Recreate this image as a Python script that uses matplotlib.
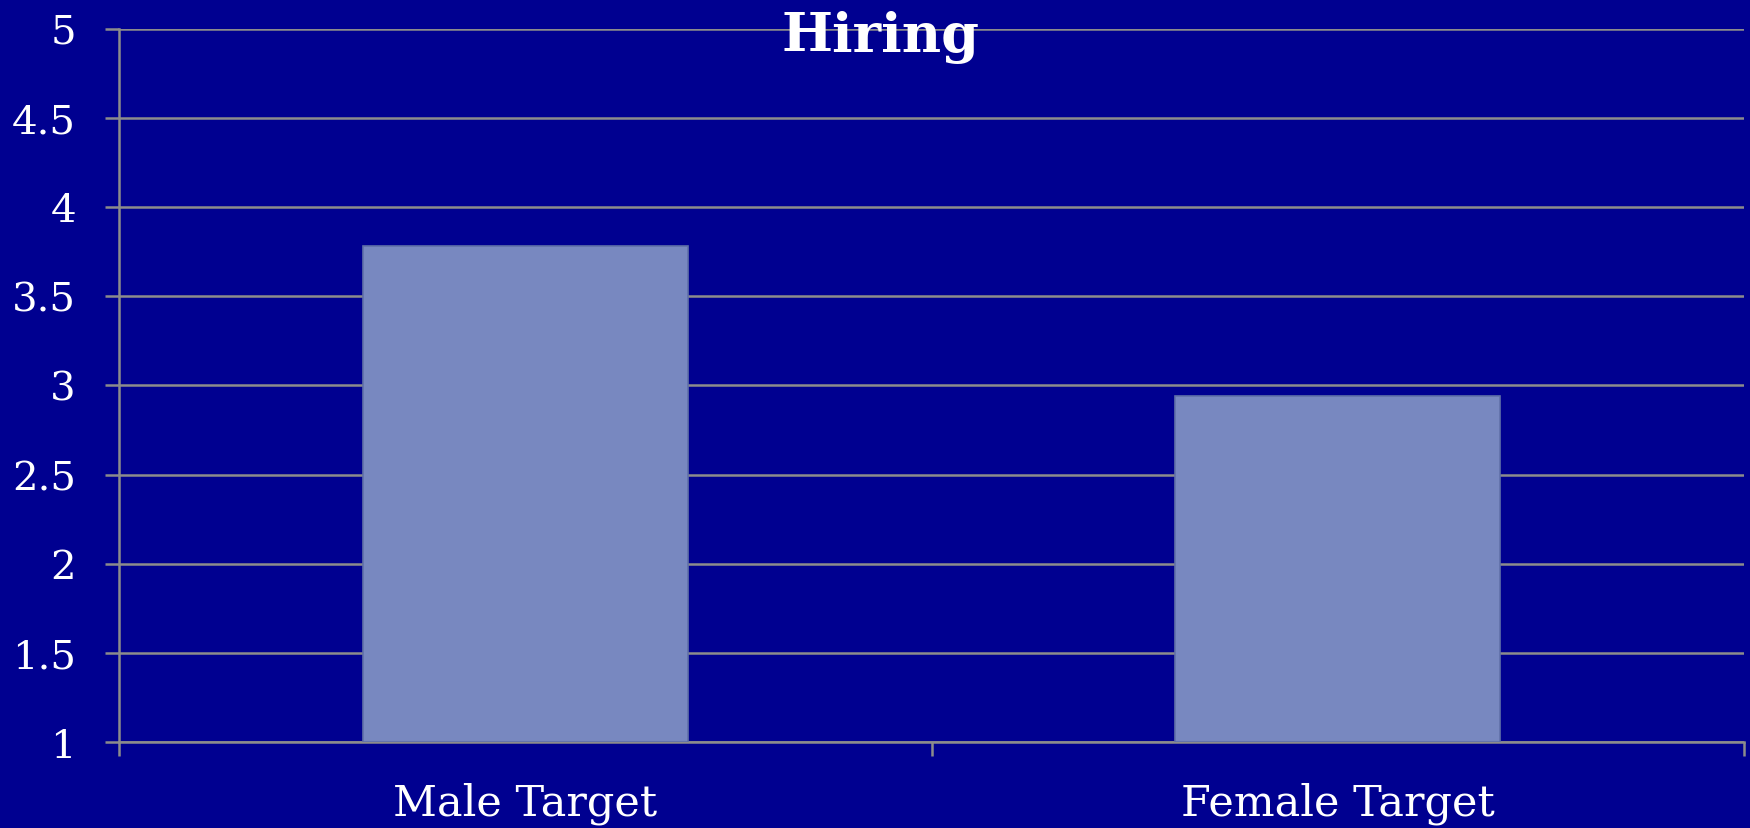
import numpy as np
import matplotlib
matplotlib.use("Agg")
import matplotlib.pyplot as plt
from matplotlib.ticker import FuncFormatter

categories = ["Male Target", "Female Target"]
values = [3.78, 2.94]
yticks = [1, 1.5, 2, 2.5, 3, 3.5, 4, 4.5, 5]

bg = "#000090"
bar_color = "#7888C0"
grid_color = "#8C8C8C"

fig = plt.figure(figsize=(17.5, 8.29), dpi=100, facecolor=bg)
ax = fig.add_axes([119 / 1750, 1 - 743.3 / 829, (1744 - 119) / 1750, (743.3 - 29.5) / 829])
ax.set_facecolor(bg)

x = np.arange(len(categories))
ax.bar(x, [v - 1 for v in values], bottom=1, width=0.4, color=bar_color,
       edgecolor="#6070A8", linewidth=1.2, zorder=3)

ax.set_xlim(-0.5, 1.5)
ax.set_ylim(1, 5)
ax.set_yticks(yticks)
ax.yaxis.set_major_formatter(FuncFormatter(lambda v, p: f"{v:g}"))
ax.grid(axis="y", color=grid_color, linewidth=1.8, zorder=0)

ax.set_xticks(x)
ax.set_xticklabels(categories)
ax.set_xticks([-0.5, 0.5, 1.5], minor=True)
ax.tick_params(axis="x", which="major", length=0, pad=28, labelsize=31, labelcolor="white")
ax.tick_params(axis="x", which="minor", length=10, width=1.8, color=grid_color)
ax.tick_params(axis="y", length=10, width=1.8, color=grid_color, pad=21,
               labelsize=29, labelcolor="white")
for lbl in ax.get_xticklabels() + ax.get_yticklabels():
    lbl.set_family("DejaVu Serif")

for s in ["top", "right"]:
    ax.spines[s].set_visible(False)
for s in ["left", "bottom"]:
    ax.spines[s].set_color(grid_color)
    ax.spines[s].set_linewidth(1.8)

fig.text(880 / 1750, 1 - 38 / 829, "Hiring", ha="center", va="center", color="white",
         fontsize=39, fontweight="bold", family="DejaVu Serif")

fig.savefig("out.png", dpi=100, facecolor=bg)
